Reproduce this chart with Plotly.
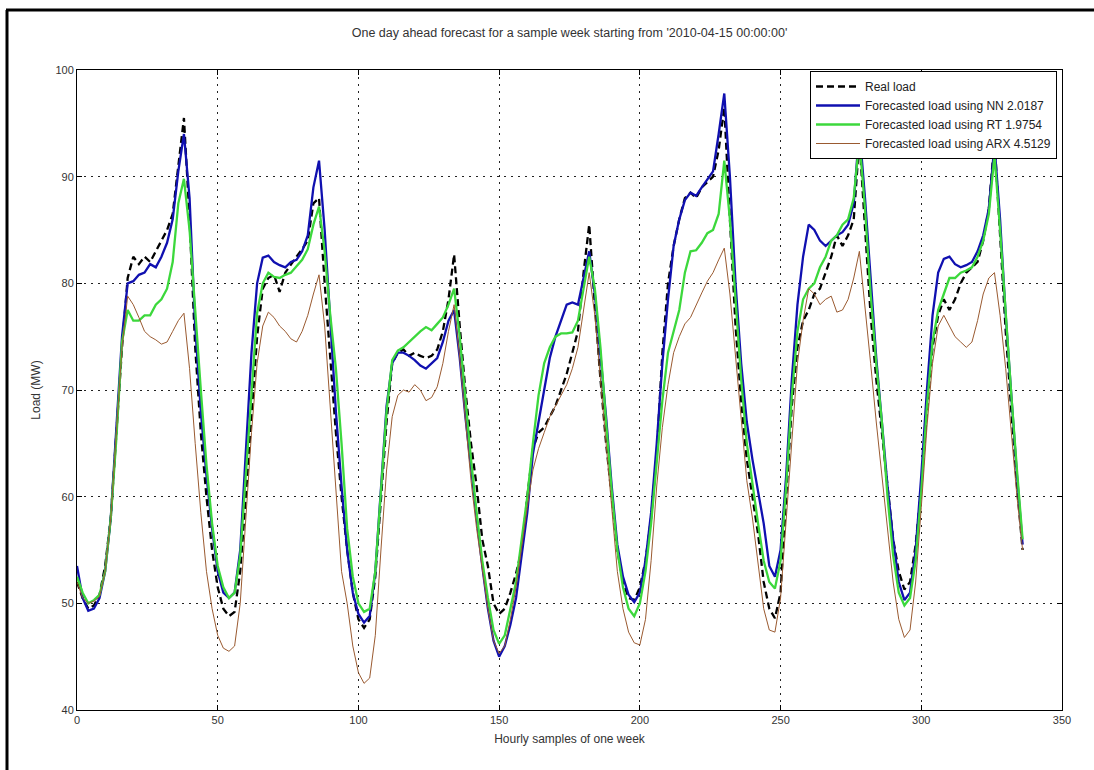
import plotly.graph_objects as go

# Hourly sample index (every 2nd sample)
samples = list(range(0, 337, 2))

real_load = [
    52, 50.5, 49.5, 49.8, 50.8, 53.5, 58, 66, 74, 80.5, 82.5, 81.8, 82.5, 82, 83, 84, 85, 86.5, 91, 95.5, 86, 74, 66, 60,
    55, 51.5, 49.5, 48.8, 49.2, 53, 60, 68, 75, 79.5, 80.5, 80.8, 79.2, 81, 81.8, 82.5, 83.2, 84, 87.5, 88, 80, 73, 66, 60,
    55, 51, 48.5, 47.7, 48.5, 52.5, 60, 67, 72.5, 73.5, 73.8, 73.2, 73.5, 73.2, 73, 73.2, 73.8, 75.5, 78.5, 82.7, 76, 70, 65, 61,
    56, 53.5, 50, 49, 49.5, 51, 52.8, 55, 60, 64.5, 66, 66.5, 67.5, 68.5, 70, 71.5, 73.5, 75.5, 81, 85.5, 78, 71, 65, 60,
    55, 52, 50.5, 50.3, 51.5, 54, 58, 64, 73.5, 80, 83.5, 86, 88, 88.5, 88, 89, 89.5, 90, 92.5, 96.5, 86, 76, 69, 63.5,
    60, 56.5, 52, 49.5, 48.6, 51, 60, 68.5, 74, 76.5, 77.5, 79, 79.5, 81, 82.5, 84.5, 83.5, 84.5, 86, 93.5, 85, 77, 71, 66,
    60.5, 56, 53, 51.3, 52, 55.5, 61, 68, 74, 77, 78.5, 77.5, 78.5, 80, 81, 81.5, 82, 84, 87, 93.5, 84, 75.5, 68, 61, 55,
]

nn_forecast = [
    53.5, 50.5, 49.3, 49.5, 50.5, 53, 58, 66, 75, 80, 80.2, 80.8, 81, 81.8, 81.5, 82.5, 83.8, 86, 90.5, 94, 88, 76, 68, 62,
    57, 53, 51, 50.5, 51, 55, 64, 73.5, 80, 82.4, 82.6, 82, 81.7, 81.5, 82, 82.2, 83, 84.5, 89, 91.5, 85, 76, 68, 61,
    55, 51, 49, 48.2, 48.8, 53, 61, 68.5, 72.5, 73.5, 73.5, 73.2, 72.8, 72.3, 72, 72.5, 73, 74.5, 76.5, 77.5, 73, 67.5, 62.5, 58,
    53.5, 49.5, 46.5, 45, 46, 48, 50.5, 54.5, 58.5, 64, 67, 70, 73, 75, 76.5, 78, 78.2, 78, 80.5, 83, 79, 73.5, 67.5, 61,
    55.5, 52.5, 50.8, 50.1, 51, 54, 58.5, 65, 72.5, 78.5, 83.5, 86, 87.8, 88.5, 88.2, 89, 89.7, 90.5, 94, 97.8, 90, 80, 72.5, 67,
    63.5, 60.5, 57.5, 53.5, 52.5, 55, 62, 71, 78, 82.5, 85.5, 85, 84, 83.5, 84, 84.5, 84.8, 85.5, 87.5, 94.5, 88, 80, 73, 67,
    61, 56, 52, 50.3, 51, 55, 62, 70, 77, 81, 82.3, 82.5, 81.8, 81.5, 81.7, 82, 83, 84.5, 87, 93, 86, 77, 69, 62, 55.5,
]

rt_forecast = [
    52.5, 51, 50, 50.3, 50.8, 53, 58, 65.5, 74.5, 77.5, 76.5, 76.5, 77, 77, 78, 78.5, 79.5, 82, 87.5, 89.8, 85, 77, 70, 63,
    57.5, 53.5, 51.5, 50.5, 51, 54.5, 62, 70, 77.2, 80, 81, 80.6, 80.5, 80.8, 81, 81.6, 82.2, 83.2, 85.5, 87.2, 83, 77, 72, 65,
    57, 52.5, 50, 49.2, 49.5, 53, 60.5, 68, 72.8, 73.7, 74, 74.5, 75, 75.5, 75.9, 75.6, 76.2, 76.8, 78, 79.5, 75, 69, 63.5, 58.5,
    54, 50.5, 47.5, 46.2, 47, 49.5, 52, 56, 60, 65, 69.5, 72.5, 74, 75, 75.3, 75.3, 75.4, 76.5, 79.5, 82.5, 79.5, 74, 67, 60.5,
    55, 51.5, 49.5, 48.8, 50, 53, 57.5, 63, 69, 73.5, 75.5, 77.5, 81, 83, 83.1, 83.8, 84.7, 85, 86.5, 91.5, 86, 78, 71, 65,
    61, 57.5, 54, 52, 51.4, 54, 61, 69.5, 75.5, 78.5, 79.5, 80, 81.5, 82.5, 84, 84.5, 85.5, 86, 88, 93.5, 87, 79, 72.5, 67,
    60, 54.5, 51, 49.8, 50.5, 54, 60.5, 68.5, 74.5, 77.5, 79, 80.5, 80.5, 81, 81.2, 81.5, 82.5, 84, 86.5, 92, 85, 77, 69.5, 62.5, 56,
]

arx_forecast = [
    52, 50.5, 50, 50.2, 50.6, 53, 58, 66, 74, 78.8, 78, 76.8, 75.5, 75, 74.7, 74.3, 74.5, 75.5, 76.5, 77.2, 72, 65, 58.5, 53,
    49.5, 47, 45.8, 45.5, 46, 50, 58, 66, 72.5, 76, 77.3, 76.8, 76, 75.5, 74.8, 74.5, 75.5, 77, 79, 80.8, 76, 68, 60, 53,
    50, 46, 43.5, 42.5, 43, 47, 55, 62.5, 67.5, 69.5, 70, 69.8, 70.5, 70, 69, 69.3, 70.3, 72.5, 75.5, 78, 73, 67, 61.5, 57,
    53, 49.5, 46.5, 45.3, 46, 48.5, 51.5, 55.5, 59, 62.5, 64.5, 66, 67.5, 68.5, 69.5, 70.5, 72, 74, 77.5, 81, 77, 71, 65, 59,
    53, 49.5, 47.3, 46.3, 46.1, 48.5, 54, 61, 66.5, 70.5, 73.5, 75, 76.2, 76.8, 78, 79.1, 80.2, 81, 82.2, 83.3, 79, 73, 67, 61.5,
    58, 53.5, 49.5, 47.5, 47.3, 50.5, 58, 66, 72.5, 76.5, 79.5, 79, 78, 78.5, 78.8, 77.3, 77.5, 78.5, 80.5, 83, 78, 72.5, 67, 62,
    57, 52, 48.5, 46.8, 47.5, 52, 59, 66.5, 72.5, 76, 77, 76, 75, 74.5, 74, 74.5, 76.5, 79, 80.5, 81, 77, 72, 66, 60, 55,
]

series_names = [
    "Real load",
    "Forecasted load using NN 2.0187",
    "Forecasted load using RT 1.9754",
    "Forecasted load using ARX 4.5129",
]

x_ticks = [0, 50, 100, 150, 200, 250, 300, 350]
y_ticks = [40, 50, 60, 70, 80, 90, 100]

title_text = "One day ahead forecast for a sample week starting from '2010-04-15 00:00:00'"
x_title = "Hourly samples of one week"
y_title = "Load (MW)"

FONT = "Liberation Sans, Arial, sans-serif"
TXT = "#333333"

fig = go.Figure()
fig.add_trace(go.Scatter(x=samples, y=real_load, mode="lines", name=series_names[0],
                         line=dict(color="#000000", width=2.3, dash="7px,4px")))
fig.add_trace(go.Scatter(x=samples, y=nn_forecast, mode="lines", name=series_names[1],
                         line=dict(color="#1010b0", width=2.3)))
fig.add_trace(go.Scatter(x=samples, y=rt_forecast, mode="lines", name=series_names[2],
                         line=dict(color="#3cd83c", width=2.3)))
fig.add_trace(go.Scatter(x=samples, y=arx_forecast, mode="lines", name=series_names[3],
                         line=dict(color="#9a5a30", width=1)))

L, R, T, B = 77, 32, 70, 60
W, H = 1094, 770
pw, ph = W - L - R, H - T - B

def px_x(px):
    return (px - L) / pw

def px_y(py):
    return 1 - (py - T) / ph

axis_common = dict(
    showline=True, linecolor="black", linewidth=1, mirror="ticks",
    ticks="inside", ticklen=5, tickcolor="black",
    showgrid=True, gridcolor="#222222", griddash="2px,5px", gridwidth=1,
    zeroline=False,
    tickfont=dict(family=FONT, size=11, color=TXT),
)

fig.update_layout(
    width=W, height=H,
    margin=dict(l=L, r=R, t=T, b=B),
    paper_bgcolor="white", plot_bgcolor="white",
    font=dict(family=FONT, size=11, color=TXT),
    title=dict(text=title_text, x=(L + pw / 2) / W, xanchor="center",
               y=1 - 33 / H, yanchor="middle", yref="container",
               font=dict(size=12.5, color=TXT)),
    xaxis=dict(range=[0, 350], tickvals=x_ticks, title=dict(text=x_title, standoff=9,
               font=dict(size=12, color=TXT)), **axis_common),
    yaxis=dict(range=[40, 100], tickvals=y_ticks, title=dict(text=y_title, standoff=12,
               font=dict(size=12, color=TXT)), **axis_common),
    legend=dict(x=px_x(1057), y=px_y(71), xanchor="right", yanchor="top",
                bgcolor="white", bordercolor="black", borderwidth=1,
                font=dict(size=12, color="#222222"), itemwidth=44,
                tracegroupgap=0),
    showlegend=True,
    shapes=[
        dict(type="line", xref="paper", yref="paper", x0=px_x(7), x1=px_x(7),
             y0=px_y(10), y1=px_y(775), line=dict(color="black", width=3)),
        dict(type="line", xref="paper", yref="paper", x0=px_x(6), x1=px_x(1100),
             y0=px_y(10), y1=px_y(10), line=dict(color="black", width=3)),
    ],
)

fig.write_html("out.html")
